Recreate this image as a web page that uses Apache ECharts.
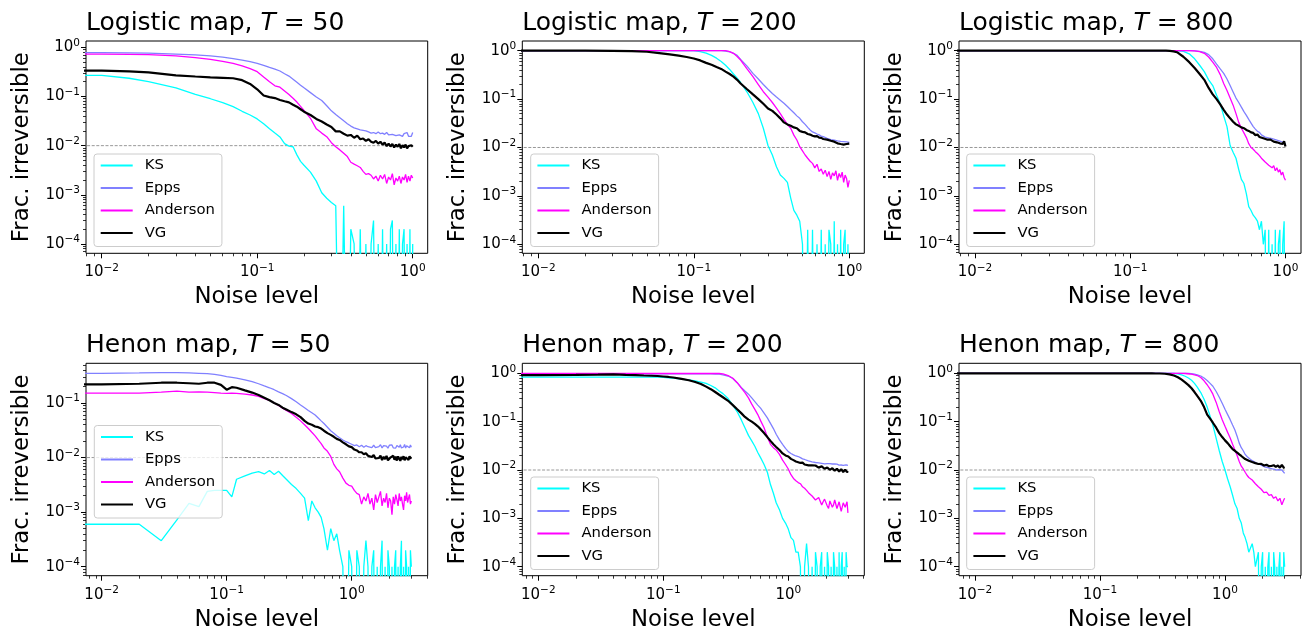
<!DOCTYPE html>
<html><head><meta charset="utf-8">
<script src="https://cdn.jsdelivr.net/npm/echarts@6/dist/echarts.min.js"></script>
<style>html,body{margin:0;padding:0;background:#fff}#c{width:1306px;height:635px}</style>
</head><body><div id="c"></div>
<script>
const seriesNames = ['KS', 'Epps', 'Anderson', 'VG'];
const seriesColors = ['#00ffff', '#8080ff', '#ff00ff', '#000000'];
const panelMaps = ['Logistic map', 'Logistic map', 'Logistic map', 'Henon map', 'Henon map', 'Henon map'];
const panelT = ['50', '200', '800', '50', '200', '800'];
const tickMultipliers = [2, 3, 4, 5, 6, 7, 8, 9];
const refLevel = 0.01;

const noiseLogistic = [
 0.005, 0.01, 0.015, 0.02, 0.03, 0.04, 0.05, 0.06, 0.07, 0.08,
 0.09, 0.1, 0.11, 0.12, 0.13, 0.14, 0.15, 0.16, 0.17, 0.18,
 0.19, 0.2, 0.22, 0.24, 0.26, 0.28, 0.3, 0.32, 0.34, 0.36,
 0.38, 0.4, 0.42, 0.44, 0.46, 0.48, 0.5, 0.52, 0.54, 0.56,
 0.58, 0.6, 0.62, 0.64, 0.66, 0.68, 0.7, 0.72, 0.74, 0.76,
 0.78, 0.8, 0.82, 0.84, 0.86, 0.88, 0.9, 0.92, 0.94, 0.96,
 0.98, 1.0];
const noiseHenon = [
 0.005, 0.01, 0.02, 0.03, 0.04, 0.05, 0.06, 0.07, 0.08, 0.09,
 0.1, 0.11, 0.12, 0.14, 0.16, 0.18, 0.2, 0.22, 0.24, 0.26,
 0.28, 0.3, 0.33, 0.36, 0.39, 0.42, 0.45, 0.48, 0.51, 0.54,
 0.57, 0.6, 0.64, 0.68, 0.72, 0.76, 0.8, 0.85, 0.9, 0.95,
 1.0, 1.05, 1.1, 1.15, 1.2, 1.25, 1.3, 1.35, 1.4, 1.45,
 1.5, 1.55, 1.6, 1.65, 1.7, 1.75, 1.8, 1.85, 1.9, 1.95,
 2.0, 2.05, 2.1, 2.15, 2.2, 2.25, 2.3, 2.35, 2.4, 2.45,
 2.5, 2.55, 2.6, 2.65, 2.7, 2.75, 2.8, 2.85, 2.9, 2.95,
 3.0];

// Logistic map, T = 50
const log50KS = [
 0.27, 0.27, 0.235, 0.2, 0.15, 0.11, 0.09, 0.075, 0.062, 0.05,
 0.042, 0.035, 0.028, 0.022, 0.018, 0.015, 0.011, 0.0098, 0.0095, 0.0065,
 0.0048, 0.004, 0.0029, 0.0019, 0.0011, 0.00085, 0.0007, 0.0006, 0, 0.0006,
 0, 0.0002, 0.0001, 0, 0.0002, 0, 0.0001, 0, 0.0001, 0.0003,
 0, 0.0001, 0, 0.0002, 0, 0.0001, 0, 0.0002, 0.0003, 0,
 0.0001, 0, 0.0002, 0, 0.0001, 0.0002, 0, 0.0001, 0, 0.0002,
 0, 0.0001];
const log50Epps = [
 0.78, 0.78, 0.77, 0.76, 0.73, 0.7, 0.67, 0.63, 0.59, 0.55,
 0.51, 0.47, 0.43, 0.39, 0.36, 0.33, 0.29, 0.26, 0.225, 0.195,
 0.17, 0.15, 0.12, 0.098, 0.083, 0.065, 0.051, 0.043, 0.037, 0.032,
 0.028, 0.025, 0.023, 0.022, 0.021, 0.0205, 0.02, 0.019, 0.018, 0.0185,
 0.0175, 0.019, 0.0175, 0.018, 0.017, 0.0185, 0.0165, 0.018, 0.017, 0.0185,
 0.016, 0.0175, 0.0165, 0.018, 0.0155, 0.0175, 0.016, 0.0185, 0.0155, 0.017,
 0.0155, 0.0185];
const log50Anderson = [
 0.73, 0.73, 0.72, 0.71, 0.67, 0.62, 0.57, 0.52, 0.47, 0.42,
 0.37, 0.32, 0.25, 0.2, 0.165, 0.155, 0.13, 0.11, 0.092, 0.077,
 0.063, 0.052, 0.036, 0.022, 0.018, 0.0152, 0.0115, 0.0095, 0.0082, 0.007,
 0.006, 0.0046, 0.0042, 0.0039, 0.0036, 0.003, 0.0026, 0.0027, 0.0025, 0.0021,
 0.0024, 0.0019, 0.0025, 0.0021, 0.0026, 0.0017, 0.0023, 0.002, 0.0027, 0.0016,
 0.0022, 0.0019, 0.0024, 0.0017, 0.0023, 0.002, 0.0026, 0.0018, 0.0024, 0.0019,
 0.0025, 0.0022];
const log50VG = [
 0.335, 0.335, 0.325, 0.31, 0.27, 0.255, 0.245, 0.24, 0.235, 0.215,
 0.18, 0.14, 0.105, 0.097, 0.093, 0.085, 0.08, 0.076, 0.068, 0.062,
 0.055, 0.049, 0.042, 0.035, 0.031, 0.027, 0.024, 0.0195, 0.0195, 0.0175,
 0.016, 0.0165, 0.0145, 0.016, 0.0135, 0.014, 0.0125, 0.0135, 0.012, 0.0115,
 0.0125, 0.011, 0.012, 0.0105, 0.0115, 0.0098, 0.011, 0.0096, 0.0108, 0.0092,
 0.0105, 0.0095, 0.0108, 0.0088, 0.0102, 0.0092, 0.0105, 0.0088, 0.0098, 0.009,
 0.0102, 0.0095];

// Logistic map, T = 200
const log200KS = [
 1, 1, 1, 1, 1, 1, 1, 1, 1, 1,
 1, 1, 0.96, 0.89, 0.8, 0.7, 0.6, 0.5, 0.41, 0.33,
 0.27, 0.22, 0.14, 0.085, 0.05, 0.025, 0.011, 0.007, 0.004, 0.0027,
 0.0023, 0.0019, 0.0009, 0.0005, 0.0004, 0.0003, 0.0001, 0, 0.0002, 0,
 0.0002, 0, 0.0001, 0, 0.0002, 0, 0.0001, 0, 0.0002, 0.0001,
 0, 0.0003, 0, 0.0001, 0, 0.0002, 0, 0.0001, 0.0002, 0,
 0.0001, 0];
const log200Epps = [
 1, 1, 1, 1, 1, 1, 1, 1, 1, 1,
 1, 1, 1, 1, 1, 1, 1, 0.98, 0.95, 0.88,
 0.8, 0.66, 0.48, 0.34, 0.26, 0.2, 0.16, 0.13, 0.11, 0.095,
 0.082, 0.07, 0.06, 0.052, 0.045, 0.04, 0.034, 0.03, 0.026, 0.023,
 0.021, 0.02, 0.019, 0.0182, 0.0172, 0.0168, 0.0158, 0.0155, 0.0148, 0.0146,
 0.014, 0.0142, 0.0135, 0.0137, 0.0131, 0.0134, 0.0128, 0.0132, 0.0126, 0.013,
 0.0124, 0.0127];
const log200Anderson = [
 1, 1, 1, 1, 1, 1, 1, 1, 1, 1,
 1, 1, 1, 1, 1, 1, 1, 1, 0.96, 0.88,
 0.76, 0.64, 0.42, 0.29, 0.2, 0.142, 0.11, 0.085, 0.065, 0.05,
 0.038, 0.03, 0.025, 0.018, 0.0143, 0.0104, 0.0085, 0.007, 0.006, 0.0052,
 0.0047, 0.0038, 0.0045, 0.0032, 0.0036, 0.0028, 0.0034, 0.0025, 0.0032, 0.0022,
 0.003, 0.0026, 0.0033, 0.0021, 0.0029, 0.0024, 0.0031, 0.0019, 0.0027, 0.0023,
 0.0015, 0.0021];
const log200VG = [
 1, 1, 1, 1, 0.99, 0.98, 0.95, 0.89, 0.84, 0.79,
 0.74, 0.69, 0.63, 0.56, 0.51, 0.46, 0.42, 0.37, 0.33, 0.29,
 0.25, 0.21, 0.16, 0.125, 0.1, 0.08, 0.064, 0.057, 0.048, 0.04,
 0.033, 0.03, 0.028, 0.026, 0.025, 0.022, 0.021, 0.0205, 0.019, 0.0185,
 0.0175, 0.017, 0.0172, 0.016, 0.0158, 0.015, 0.0155, 0.0145, 0.0148, 0.0138,
 0.0142, 0.0132, 0.0135, 0.0122, 0.013, 0.0118, 0.0128, 0.0115, 0.0125, 0.0118,
 0.0112, 0.012];

// Logistic map, T = 800
const log800KS = [
 1, 1, 1, 1, 1, 1, 1, 1, 1, 1,
 1, 1, 1, 1, 1, 1, 1, 1, 1, 1,
 1, 1, 0.97, 0.86, 0.68, 0.5, 0.37, 0.25, 0.19, 0.12,
 0.08, 0.045, 0.027, 0.011, 0.008, 0.006, 0.0035, 0.0022, 0.0018, 0.0011,
 0.0006, 0.0005, 0.0004, 0.00035, 0.0003, 0.0002, 0.0003, 0.0001, 0.0002, 0,
 0.0002, 0, 0.0001, 0, 0.0002, 0, 0.0001, 0.0002, 0, 0.0001,
 0.0003, 0];
const log800Epps = [
 1, 1, 1, 1, 1, 1, 1, 1, 1, 1,
 1, 1, 1, 1, 1, 1, 1, 1, 1, 1,
 1, 1, 1, 1, 0.99, 0.97, 0.92, 0.83, 0.68, 0.53,
 0.42, 0.34, 0.26, 0.19, 0.14, 0.105, 0.085, 0.068, 0.055, 0.046,
 0.038, 0.032, 0.027, 0.024, 0.0215, 0.0205, 0.0182, 0.0178, 0.0164, 0.0163,
 0.0158, 0.015, 0.0153, 0.0142, 0.0146, 0.0134, 0.0139, 0.0127, 0.0132, 0.0122,
 0.0126, 0.0116];
const log800Anderson = [
 1, 1, 1, 1, 1, 1, 1, 1, 1, 1,
 1, 1, 1, 1, 1, 1, 1, 1, 1, 1,
 1, 1, 1, 1, 0.99, 0.96, 0.88, 0.74, 0.58, 0.45,
 0.32, 0.21, 0.15, 0.105, 0.075, 0.05, 0.033, 0.025, 0.02, 0.016,
 0.012, 0.01, 0.0092, 0.0082, 0.0075, 0.0068, 0.006, 0.0055, 0.005, 0.0047,
 0.0043, 0.0045, 0.0038, 0.0042, 0.0033, 0.0038, 0.0031, 0.0035, 0.0027, 0.0031,
 0.0024, 0.0021];
const log800VG = [
 1, 1, 1, 1, 1, 1, 1, 1, 1, 1,
 1, 1, 1, 1, 1, 1, 1, 1, 1, 0.99,
 0.97, 0.93, 0.75, 0.58, 0.44, 0.33, 0.25, 0.17, 0.125, 0.1,
 0.078, 0.06, 0.048, 0.04, 0.034, 0.03, 0.028, 0.026, 0.025, 0.023,
 0.022, 0.0205, 0.02, 0.018, 0.0185, 0.0165, 0.0172, 0.0155, 0.016, 0.0146,
 0.0148, 0.0145, 0.014, 0.0132, 0.0138, 0.0128, 0.0132, 0.0122, 0.013, 0.0118,
 0.0135, 0.0105];

// Henon map, T = 50
const hen50KS = [
 0.0006, 0.0006, 0.0006, 0.0003, 0.00072, 0.00145, 0.00126, 0.0024, 0.0025, 0.0025,
 0.0025, 0.0019, 0.004, 0.0046, 0.0052, 0.0055, 0.005, 0.0058, 0.0049, 0.0056,
 0.0047, 0.004, 0.0032, 0.0027, 0.0022, 0.0018, 0.0007, 0.0016, 0.0012, 0.001,
 0.0008, 0.0005, 0.0002, 0.0005, 0.0003, 0.0004, 0.0002, 0.0001, 0, 0.0002,
 0.0001, 0, 0.0002, 0.0001, 0, 0.0001, 0.0003, 0.0001, 0, 0.0001,
 0.0002, 0, 0.0001, 0, 0.0001, 0.0003, 0, 0.0001, 0, 0.0002,
 0.0001, 0, 0.0001, 0, 0.0001, 0.0002, 0, 0.0001, 0, 0.0001,
 0.0003, 0, 0.0001, 0, 0.0002, 0.0001, 0, 0.0001, 0, 0.0002,
 0.0001];
const hen50Epps = [
 0.35, 0.35, 0.355, 0.36, 0.36, 0.355, 0.35, 0.345, 0.335, 0.32,
 0.305, 0.295, 0.285, 0.265, 0.245, 0.225, 0.205, 0.19, 0.175, 0.16,
 0.148, 0.137, 0.12, 0.105, 0.092, 0.082, 0.073, 0.066, 0.06, 0.053,
 0.047, 0.042, 0.036, 0.031, 0.028, 0.025, 0.023, 0.021, 0.0195, 0.0185,
 0.0175, 0.0165, 0.017, 0.0158, 0.0168, 0.0155, 0.0165, 0.0158, 0.017, 0.0152,
 0.0168, 0.0152, 0.0165, 0.0158, 0.0172, 0.015, 0.0166, 0.0155, 0.0162, 0.0148,
 0.0168, 0.0157, 0.017, 0.0151, 0.0164, 0.0149, 0.0166, 0.0158, 0.0155, 0.0171,
 0.015, 0.0163, 0.0156, 0.0174, 0.0149, 0.0165, 0.0153, 0.0168, 0.0151, 0.017,
 0.0155];
const hen50Anderson = [
 0.152, 0.152, 0.152, 0.158, 0.165, 0.158, 0.16, 0.158, 0.155, 0.152,
 0.15, 0.152, 0.15, 0.145, 0.14, 0.132, 0.12, 0.112, 0.1, 0.09,
 0.08, 0.073, 0.064, 0.055, 0.047, 0.04, 0.034, 0.029, 0.025, 0.021,
 0.018, 0.015, 0.013, 0.0105, 0.0075, 0.0062, 0.0055, 0.0042, 0.0034, 0.0031,
 0.003, 0.0025, 0.0022, 0.0021, 0.0014, 0.0019, 0.0016, 0.0022, 0.0014, 0.0018,
 0.0011, 0.0021, 0.0015, 0.0019, 0.0024, 0.0013, 0.0018, 0.0015, 0.0022, 0.0012,
 0.0018, 0.0016, 0.0009, 0.0019, 0.0014, 0.0021, 0.0017, 0.0013, 0.0022, 0.0016,
 0.0019, 0.0014, 0.0011, 0.002, 0.0016, 0.0023, 0.0015, 0.0018, 0.0021, 0.0014,
 0.0016];
const hen50VG = [
 0.22, 0.22, 0.225, 0.235, 0.235, 0.23, 0.225, 0.235, 0.235, 0.215,
 0.175, 0.195, 0.19, 0.17, 0.155, 0.14, 0.125, 0.112, 0.1, 0.092,
 0.082, 0.076, 0.068, 0.062, 0.055, 0.047, 0.042, 0.04, 0.037, 0.036,
 0.034, 0.031, 0.028, 0.026, 0.024, 0.022, 0.021, 0.019, 0.0175, 0.016,
 0.0155, 0.014, 0.0135, 0.0125, 0.0125, 0.0115, 0.012, 0.0108, 0.0115, 0.0102,
 0.0112, 0.0096, 0.0104, 0.0098, 0.0108, 0.009, 0.0103, 0.0094, 0.0107, 0.0089,
 0.0085, 0.0101, 0.0094, 0.0108, 0.0091, 0.0104, 0.0088, 0.0105, 0.0095, 0.0087,
 0.0103, 0.0093, 0.0106, 0.0089, 0.0101, 0.0094, 0.0108, 0.009, 0.0105, 0.0097,
 0.0095];

// Henon map, T = 200
const hen200KS = [
 0.83, 0.83, 0.83, 0.83, 0.83, 0.83, 0.83, 0.83, 0.83, 0.83,
 0.82, 0.81, 0.8, 0.76, 0.73, 0.7, 0.66, 0.62, 0.56, 0.5,
 0.43, 0.38, 0.3, 0.22, 0.16, 0.11, 0.075, 0.052, 0.04, 0.031,
 0.023, 0.018, 0.013, 0.009, 0.005, 0.0033, 0.0021, 0.0015, 0.001, 0.0008,
 0.0006, 0.0004, 0.00035, 0.0002, 0.0002, 0.0001, 0, 0.0001, 0.0003, 0.0001,
 0, 0.0001, 0, 0.0002, 0.0001, 0, 0.0001, 0.0002, 0, 0.0001,
 0, 0.0002, 0.0001, 0, 0.0001, 0, 0.0002, 0.0001, 0, 0.0001,
 0, 0.0002, 0, 0.0001, 0.0002, 0, 0.0001, 0, 0.0002, 0.0001,
 0.0001];
const hen200Epps = [
 0.97, 0.97, 0.97, 0.97, 0.97, 0.97, 0.97, 0.97, 0.97, 0.97,
 0.97, 0.97, 0.97, 0.97, 0.97, 0.97, 0.97, 0.97, 0.97, 0.965,
 0.96, 0.93, 0.88, 0.78, 0.64, 0.51, 0.43, 0.37, 0.31, 0.26,
 0.22, 0.19, 0.15, 0.12, 0.092, 0.072, 0.055, 0.042, 0.034, 0.028,
 0.024, 0.022, 0.0205, 0.0195, 0.019, 0.018, 0.017, 0.0165, 0.016, 0.0155,
 0.015, 0.0147, 0.0145, 0.0143, 0.0142, 0.014, 0.014, 0.0137, 0.0138, 0.0134,
 0.0133, 0.0136, 0.0131, 0.0135, 0.013, 0.0133, 0.0129, 0.0134, 0.0127, 0.0132,
 0.0131, 0.0126, 0.0129, 0.0127, 0.013, 0.0125, 0.0129, 0.0124, 0.0128, 0.0126,
 0.0125];
const hen200Anderson = [
 0.99, 0.99, 0.99, 0.99, 0.99, 0.99, 0.99, 0.99, 0.99, 0.99,
 0.99, 0.99, 0.99, 0.99, 0.99, 0.99, 0.99, 0.99, 0.99, 0.99,
 0.99, 0.97, 0.9, 0.79, 0.64, 0.5, 0.4, 0.31, 0.23, 0.18,
 0.14, 0.105, 0.075, 0.048, 0.034, 0.029, 0.026, 0.021, 0.016, 0.013,
 0.0105, 0.008, 0.0067, 0.006, 0.0055, 0.0052, 0.0045, 0.0042, 0.0038, 0.0034,
 0.0031, 0.0029, 0.0028, 0.0024, 0.0022, 0.0027, 0.0026, 0.0019, 0.0022, 0.0025,
 0.0024, 0.0018, 0.0016, 0.0023, 0.0022, 0.0017, 0.0019, 0.0024, 0.0025, 0.0016,
 0.0017, 0.0022, 0.0023, 0.0014, 0.0015, 0.0021, 0.0021, 0.0017, 0.0018, 0.0022,
 0.0013];
const hen200VG = [
 0.92, 0.92, 0.93, 0.94, 0.95, 0.93, 0.92, 0.9, 0.89, 0.88,
 0.86, 0.84, 0.82, 0.77, 0.72, 0.66, 0.6, 0.53, 0.47, 0.41,
 0.36, 0.32, 0.27, 0.22, 0.18, 0.15, 0.125, 0.11, 0.1, 0.09,
 0.08, 0.07, 0.058, 0.048, 0.04, 0.034, 0.03, 0.026, 0.022, 0.02,
 0.019, 0.017, 0.016, 0.015, 0.0145, 0.014, 0.0142, 0.013, 0.0138, 0.0125,
 0.0132, 0.0125, 0.0118, 0.0124, 0.0126, 0.0112, 0.011, 0.0119, 0.012, 0.0106,
 0.0102, 0.0113, 0.0116, 0.0101, 0.0098, 0.0109, 0.0112, 0.0097, 0.0094, 0.0106,
 0.0108, 0.0093, 0.0092, 0.0104, 0.011, 0.0091, 0.0088, 0.0102, 0.0105, 0.009,
 0.0095];

// Henon map, T = 800
const hen800KS = [
 1, 1, 1, 1, 1, 1, 1, 1, 1, 1,
 1, 1, 1, 1, 1, 1, 1, 1, 1, 1,
 1, 1, 1, 1, 0.99, 0.97, 0.93, 0.87, 0.8, 0.72,
 0.62, 0.52, 0.4, 0.29, 0.2, 0.13, 0.085, 0.045, 0.025, 0.015,
 0.01, 0.0065, 0.0045, 0.003, 0.002, 0.0016, 0.001, 0.0008, 0.0005, 0.0004,
 0.0003, 0.0002, 0.0002, 0.0003, 0.0002, 0.0001, 0.0001, 0.0002, 0, 0.0001,
 0.0002, 0, 0.0001, 0, 0.0001, 0.0002, 0, 0.0001, 0, 0.0002,
 0.0001, 0, 0.0001, 0, 0.0001, 0.0002, 0, 0.0001, 0, 0.0002,
 0.0001];
const hen800Epps = [
 1, 1, 1, 1, 1, 1, 1, 1, 1, 1,
 1, 1, 1, 1, 1, 1, 1, 1, 1, 1,
 1, 1, 1, 1, 1, 1, 1, 1, 0.99, 0.98,
 0.96, 0.93, 0.88, 0.8, 0.71, 0.62, 0.54, 0.42, 0.32, 0.24,
 0.18, 0.14, 0.11, 0.085, 0.067, 0.05, 0.036, 0.029, 0.025, 0.021,
 0.019, 0.0178, 0.0165, 0.0158, 0.015, 0.0143, 0.0138, 0.0133, 0.013, 0.0126,
 0.0122, 0.0118, 0.0115, 0.0114, 0.0112, 0.011, 0.0108, 0.0107, 0.0105, 0.0104,
 0.0103, 0.0101, 0.01, 0.0102, 0.0102, 0.0099, 0.0098, 0.01, 0.01, 0.0093,
 0.0085];
const hen800Anderson = [
 1, 1, 1, 1, 1, 1, 1, 1, 1, 1,
 1, 1, 1, 1, 1, 1, 1, 1, 1, 1,
 1, 1, 1, 1, 1, 1, 1, 0.99, 0.98, 0.96,
 0.93, 0.9, 0.82, 0.7, 0.58, 0.47, 0.37, 0.25, 0.16, 0.11,
 0.08, 0.06, 0.046, 0.034, 0.026, 0.02, 0.015, 0.012, 0.0105, 0.009,
 0.0078, 0.007, 0.0065, 0.0062, 0.0058, 0.0052, 0.0048, 0.0045, 0.0042, 0.004,
 0.0038, 0.0034, 0.0032, 0.0035, 0.0036, 0.003, 0.0028, 0.0031, 0.0033, 0.0026,
 0.0024, 0.0028, 0.003, 0.0023, 0.0021, 0.0026, 0.0027, 0.0019, 0.0018, 0.0024,
 0.0026];
const hen800VG = [
 1, 1, 1, 1, 1, 1, 1, 1, 1, 1,
 1, 1, 1, 1, 1, 1, 1, 1, 1, 1,
 0.99, 0.99, 0.98, 0.95, 0.9, 0.83, 0.74, 0.65, 0.57, 0.49,
 0.41, 0.34, 0.27, 0.2, 0.14, 0.115, 0.095, 0.075, 0.058, 0.048,
 0.041, 0.036, 0.031, 0.027, 0.025, 0.023, 0.021, 0.0195, 0.018, 0.0168,
 0.016, 0.0155, 0.015, 0.0146, 0.0142, 0.0139, 0.0136, 0.0133, 0.013, 0.0134,
 0.0132, 0.0124, 0.0122, 0.0128, 0.013, 0.012, 0.0125, 0.0121, 0.0118, 0.0126,
 0.0128, 0.0116, 0.0115, 0.0124, 0.0125, 0.0112, 0.0113, 0.0128, 0.0135, 0.0112,
 0.011];

const panelNoise = [noiseLogistic, noiseLogistic, noiseLogistic, noiseHenon, noiseHenon, noiseHenon];
const panelSeries = [
  [log50KS, log50Epps, log50Anderson, log50VG],
  [log200KS, log200Epps, log200Anderson, log200VG],
  [log800KS, log800Epps, log800Anderson, log800VG],
  [hen50KS, hen50Epps, hen50Anderson, hen50VG],
  [hen200KS, hen200Epps, hen200Anderson, hen200VG],
  [hen800KS, hen800Epps, hen800Anderson, hen800VG]
];

// layout (pixels) and axis ranges (log10 units)
const layout = [
  {left: 86,    top: 41,    w: 341.7, h: 212.3, xr: [-2.101, 0.0965], yr: [-4.19, 0.129],  lg: [94, 154]},
  {left: 522.3, top: 41,    w: 342,   h: 212.3, xr: [-2.103, 0.0965], yr: [-4.186, 0.2],  lg: [530.7, 154]},
  {left: 959,   top: 41,    w: 342,   h: 212.3, xr: [-2.103, 0.1],    yr: [-4.186, 0.2],  lg: [966.7, 154]},
  {left: 86,    top: 363.3, w: 341.7, h: 212.4, xr: [-2.125, 0.608],  yr: [-4.165, -0.273], lg: [94.3, 425.5]},
  {left: 522.3, top: 363.3, w: 342,   h: 212.4, xr: [-2.128, 0.608],  yr: [-4.186, 0.207], lg: [530.7, 477]},
  {left: 959,   top: 363.3, w: 342,   h: 212.4, xr: [-2.128, 0.608],  yr: [-4.186, 0.207], lg: [966.7, 477]}
];

const FF = 'DejaVu Sans';
function majors(r) { const a = []; for (let k = Math.ceil(r[0]); k <= Math.floor(r[1]); k++) a.push(k); return a; }
function minors(r) {
  const a = [];
  for (let k = Math.floor(r[0]); k <= Math.ceil(r[1]); k++)
    tickMultipliers.forEach(m => { const v = k + Math.log10(m); if (v > r[0] && v < r[1]) a.push(v); });
  return a;
}
function fmt(v) { const e = Math.round(v); return '{b|10}{s|' + (e < 0 ? '\u2212' + (-e) : '' + e) + '}'; }
const labelRich = {
  b: {fontSize: 15, color: '#000', fontFamily: FF},
  s: {fontSize: 10.5, color: '#000', fontFamily: FF, padding: [0, 0, 9, 0]}
};
function toLog(v) { return v > 0 ? Math.log10(v) : -8; }

const option = {animation: false, textStyle: {fontFamily: FF}, grid: [], xAxis: [], yAxis: [], series: [], legend: [], title: []};

layout.forEach((p, i) => {
  option.grid.push({left: p.left, top: p.top, width: p.w, height: p.h, show: true, borderColor: '#000', borderWidth: 1, backgroundColor: 'transparent'});
  const xm = majors(p.xr), ym = majors(p.yr);
  option.xAxis.push({
    type: 'value', gridIndex: i, min: p.xr[0], max: p.xr[1], position: 'bottom',
    axisLine: {show: false, onZero: false},
    axisTick: {show: true, customValues: xm, length: 5, lineStyle: {color: '#000', width: 1}},
    axisLabel: {show: true, customValues: xm, formatter: fmt, rich: labelRich, margin: 9},
    splitLine: {show: false},
    name: 'Noise level', nameLocation: 'middle', nameGap: 32.5, nameMoveOverlap: false,
    nameTextStyle: {fontSize: 22.8, color: '#000', fontFamily: FF}
  });
  option.xAxis.push({
    type: 'value', gridIndex: i, min: p.xr[0], max: p.xr[1], position: 'bottom',
    axisLine: {show: false, onZero: false},
    axisTick: {show: true, customValues: minors(p.xr), length: 3, lineStyle: {color: '#000', width: 0.8}},
    axisLabel: {show: false}, splitLine: {show: false}
  });
  option.yAxis.push({
    type: 'value', gridIndex: i, min: p.yr[0], max: p.yr[1], position: 'left',
    axisLine: {show: false, onZero: false},
    axisTick: {show: true, customValues: ym, length: 5, lineStyle: {color: '#000', width: 1}},
    axisLabel: {show: true, customValues: ym, formatter: fmt, rich: labelRich, margin: 6},
    splitLine: {show: false},
    name: 'Frac. irreversible', nameLocation: 'middle', nameGap: 52.5, nameRotate: 90, nameMoveOverlap: false,
    nameTextStyle: {fontSize: 22.8, color: '#000', fontFamily: FF}
  });
  option.yAxis.push({
    type: 'value', gridIndex: i, min: p.yr[0], max: p.yr[1], position: 'left',
    axisLine: {show: false, onZero: false},
    axisTick: {show: true, customValues: minors(p.yr), length: 3, lineStyle: {color: '#000', width: 0.8}},
    axisLabel: {show: false}, splitLine: {show: false}
  });

  const xs = panelNoise[i];
  option.series.push({
    type: 'line', name: 'ref', xAxisIndex: 2 * i, yAxisIndex: 2 * i, symbol: 'none', silent: true,
    data: [[Math.log10(xs[0]), Math.log10(refLevel)], [Math.log10(xs[xs.length - 1]), Math.log10(refLevel)]],
    lineStyle: {color: '#8c8c8c', width: 0.9, type: [3, 1.6]}, z: 1
  });
  panelSeries[i].forEach((ys, k) => {
    option.series.push({
      type: 'line', name: seriesNames[k], xAxisIndex: 2 * i, yAxisIndex: 2 * i,
      symbol: 'none', showSymbol: false, silent: true, clip: true,
      data: xs.map((x, j) => [Math.log10(x), toLog(ys[j])]),
      itemStyle: {color: seriesColors[k]},
      lineStyle: {color: seriesColors[k], width: k === 3 ? 2.2 : 1.3},
      emphasis: {disabled: true}, z: 2 + k
    });
  });

  option.legend.push({
    orient: 'vertical', left: p.lg[0], top: p.lg[1], data: seriesNames, selectedMode: false,
    itemWidth: 32, itemHeight: 15, itemGap: 7.5, padding: [4, 7, 6, 5.7],
    itemStyle: {color: 'rgba(0,0,0,0)', borderColor: 'rgba(0,0,0,0)', borderWidth: 0, opacity: 0},
    backgroundColor: 'rgba(255,255,255,0.8)', borderColor: '#cccccc', borderWidth: 1, borderRadius: 3,
    textStyle: {fontSize: 14.8, color: '#000', fontFamily: FF, padding: [0, 0, 0, 7]}
  });

  option.title.push({
    left: p.left, top: p.top - 30.2, padding: 0,
    text: '{n|' + panelMaps[i] + ', }{i|T}{n| = ' + panelT[i] + '}',
    textStyle: {fontWeight: 'normal', rich: {
      n: {fontSize: 25, color: '#000', fontFamily: FF, fontWeight: 'normal'},
      i: {fontSize: 25, color: '#000', fontFamily: FF, fontStyle: 'italic', fontWeight: 'normal'}
    }}
  });
});

const chart = echarts.init(document.getElementById('c'), null, {renderer: 'canvas'});
chart.setOption(option);
</script>
</body></html>
